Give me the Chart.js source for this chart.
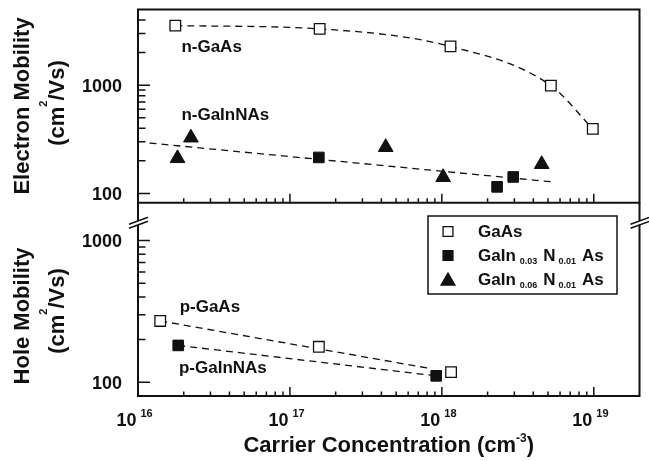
<!DOCTYPE html>
<html>
<head>
<meta charset="utf-8">
<script src="https://cdn.jsdelivr.net/npm/chart.js@4.4.1/dist/chart.umd.min.js"></script>
<style>
  html, body { margin: 0; padding: 0; background: #fff; }
  #wrap { width: 649px; height: 461px; }
</style>
</head>
<body>
<div id="wrap"><canvas id="mobilityChart" width="649" height="461"></canvas></div>
<script>
// carrier concentration (cm^-3) vs mobility (cm^2/Vs)
const nGaAsConc = [1.76e16, 1.57e17, 1.14e18, 5.22e18, 9.85e18];
const nGaAsMob = [3550, 3310, 2280, 990, 395];
const nIn03Conc = [1.55e17, 2.31e18, 2.95e18];
const nIn03Mob = [215, 115, 142];
const nIn06Conc = [1.82e16, 2.23e16, 4.27e17, 1.02e18, 4.54e18];
const nIn06Mob = [211, 327, 267, 141, 186];
const nFitConc = [1.19e16, 5.6e18];
const nFitMob = [292, 127];

const pGaAsConc = [1.40e16, 1.55e17, 1.15e18];
const pGaAsMob = [271, 178, 118];
const pFitConc = [1.40e16, 8.4e17];
const pFitMob = [271, 125];
const pIn03Conc = [1.84e16, 9.18e17];
const pIn03Mob = [182, 111];

const xTickExps = [16, 17, 18, 19];
const yTickLabels = [100, 1000];

const ink = '#111';
const family = '"Liberation Sans", Arial, sans-serif';
const bold = px => `bold ${px}px ${family}`;
const pts = (xs, ys) => xs.map((x, i) => ({ x, y: ys[i] }));

// minor/major positions for a log axis
function logTicks(scale) {
  const out = [];
  const first = Math.pow(10, Math.ceil(Math.log10(scale.min)));
  for (let e = Math.floor(Math.log10(scale.min)); e <= Math.ceil(Math.log10(scale.max)); e++) {
    for (let m = 1; m < 10; m++) {
      const v = m * Math.pow(10, e);
      if (v >= first && v > scale.min && v < scale.max) {
        out.push({ major: m === 1, px: scale.getPixelForValue(v) });
      }
    }
  }
  return out;
}

// text made of pieces (sub/superscripts)
function runWidth(ctx, parts) {
  let w = 0;
  parts.forEach(p => { ctx.font = bold(p.size); w += (p.gap || 0) + ctx.measureText(p.text).width; });
  return w;
}
function drawRun(ctx, parts, x, y) {
  let cx = x;
  parts.forEach(p => {
    cx += p.gap || 0;
    ctx.font = bold(p.size);
    ctx.fillText(p.text, cx, y + (p.dy || 0));
    cx += ctx.measureText(p.text).width;
  });
}

function axisBreak(ctx, x, y) {
  ctx.fillStyle = '#fff';
  ctx.fillRect(x - 2, y - 2, 4, 4);
  ctx.beginPath();
  ctx.moveTo(x - 9, y + 1.5); ctx.lineTo(x + 10, y - 5.5);
  ctx.moveTo(x - 9, y + 5.5); ctx.lineTo(x + 10, y - 1.5);
  ctx.stroke();
}

const unitParts = [
  { text: '(cm', size: 22 },
  { text: '2', size: 11, dy: -17 },
  { text: '/Vs)', size: 22 }
];

const curveLabels = [
  { text: 'n-GaAs', axis: 'yTop', x: 1.93e16, y: 2020 },
  { text: 'n-GaInNAs', axis: 'yTop', x: 1.93e16, y: 474 },
  { text: 'p-GaAs', axis: 'yBot', x: 1.88e16, y: 312 },
  { text: 'p-GaInNAs', axis: 'yBot', x: 1.86e16, y: 116 }
];

const legendRows = [
  { style: 'rect', fill: '#fff', radius: 7, parts: [{ text: 'GaAs', size: 17 }] },
  { style: 'rect', fill: ink, radius: 7, parts: [
    { text: 'GaIn', size: 17 }, { text: '0.03', size: 9, gap: 4, dy: 3 },
    { text: 'N', size: 17, gap: 6 }, { text: '0.01', size: 9, gap: 3, dy: 3 },
    { text: 'As', size: 17, gap: 6 }] },
  { style: 'triangle', fill: ink, radius: 8, parts: [
    { text: 'GaIn', size: 17 }, { text: '0.06', size: 9, gap: 4, dy: 3 },
    { text: 'N', size: 17, gap: 6 }, { text: '0.01', size: 9, gap: 3, dy: 3 },
    { text: 'As', size: 17, gap: 6 }] }
];

const panelFrame = {
  id: 'panelFrame',
  afterDraw(chart) {
    const ctx = chart.ctx;
    const xs = chart.scales.x, yt = chart.scales.yTop, yb = chart.scales.yBot;
    const L = xs.left, R = xs.right;
    const breakY = yb.top + 20;
    ctx.save();
    ctx.strokeStyle = ink;
    ctx.fillStyle = ink;

    // frames
    ctx.lineWidth = 2;
    ctx.strokeRect(L, yt.top, R - L, yt.bottom - yt.top);
    ctx.beginPath();
    ctx.moveTo(L, yb.top); ctx.lineTo(L, yb.bottom);
    ctx.lineTo(R, yb.bottom); ctx.lineTo(R, yb.top);
    ctx.stroke();

    // inward ticks
    ctx.lineWidth = 1.5;
    ctx.beginPath();
    logTicks(xs).forEach(t => {
      const len = t.major ? 9 : 4.5;
      [yt.bottom, yb.bottom].forEach(b => { ctx.moveTo(t.px, b); ctx.lineTo(t.px, b - len); });
    });
    [yt, yb].forEach(s => logTicks(s).forEach(t => {
      ctx.moveTo(L, t.px); ctx.lineTo(L + (t.major ? 12 : 7.5), t.px);
    }));
    ctx.stroke();

    // axis breaks on the lower panel
    axisBreak(ctx, L, breakY);
    axisBreak(ctx, R, breakY);
    ctx.fillStyle = ink;

    // tick labels
    ctx.textAlign = 'right';
    ctx.font = bold(18);
    [yt, yb].forEach(s => yTickLabels.forEach(v => {
      ctx.fillText(String(v), L - 16, s.getPixelForValue(v) + 6.5);
    }));
    xTickExps.forEach(e => {
      const px = xs.getPixelForValue(Math.pow(10, e));
      ctx.textAlign = 'right';
      ctx.font = bold(18);
      ctx.fillText('10', px - 1.5, yb.bottom + 30);
      ctx.textAlign = 'left';
      ctx.font = bold(11);
      ctx.fillText(String(e), px + 2.5, yb.bottom + 21);
    });

    // axis titles
    ctx.textAlign = 'left';
    const xTitle = [
      { text: 'Carrier Concentration (cm', size: 22 },
      { text: '-3', size: 12, dy: -10.5 },
      { text: ')', size: 22 }
    ];
    drawRun(ctx, xTitle, (L + R) / 2 - runWidth(ctx, xTitle) / 2, yb.bottom + 56);

    const yTitles = [
      { line: [{ text: 'Electron Mobility', size: 22 }], bx: 29, cy: 106 },
      { line: unitParts, bx: 64, cy: 103 },
      { line: [{ text: 'Hole Mobility', size: 22 }], bx: 29, cy: 316 },
      { line: unitParts, bx: 64, cy: 311 }
    ];
    yTitles.forEach(t => {
      ctx.save();
      ctx.translate(t.bx, t.cy);
      ctx.rotate(-Math.PI / 2);
      drawRun(ctx, t.line, -runWidth(ctx, t.line) / 2, 0);
      ctx.restore();
    });

    // curve labels
    ctx.font = bold(17);
    curveLabels.forEach(c => {
      ctx.fillText(c.text, xs.getPixelForValue(c.x), chart.scales[c.axis].getPixelForValue(c.y));
    });

    // legend
    const box = { x: 428, y: 216, w: 189, h: 78 };
    ctx.fillStyle = '#fff';
    ctx.fillRect(box.x, box.y, box.w, box.h);
    ctx.lineWidth = 1.5;
    ctx.strokeRect(box.x, box.y, box.w, box.h);
    legendRows.forEach((row, i) => {
      const base = box.y + 21 + i * 24;
      ctx.fillStyle = row.fill;
      ctx.strokeStyle = ink;
      ctx.lineWidth = 1.3;
      Chart.helpers.drawPoint(ctx, { pointStyle: row.style, radius: row.radius, rotation: 0, borderWidth: 1.3 },
        box.x + 20, base - (row.style === 'triangle' ? 4 : 5.5));
      ctx.fillStyle = ink;
      drawRun(ctx, row.parts, box.x + 50, base);
    });
    ctx.restore();
  }
};

const dash = [7, 5];

new Chart(document.getElementById('mobilityChart'), {
  type: 'scatter',
  data: {
    datasets: [
      {
        label: 'n-GaAs', yAxisID: 'yTop', data: pts(nGaAsConc, nGaAsMob),
        showLine: true, cubicInterpolationMode: 'monotone', borderDash: dash,
        borderColor: ink, borderWidth: 1.3,
        pointStyle: 'rect', pointRadius: 7.5, pointBackgroundColor: '#fff',
        pointBorderColor: ink, pointBorderWidth: 1.3, order: 1
      },
      {
        label: 'n-GaInNAs fit', yAxisID: 'yTop', data: pts(nFitConc, nFitMob),
        showLine: true, borderDash: dash, borderColor: ink, borderWidth: 1.3,
        pointRadius: 0, order: 2
      },
      {
        label: 'GaIn0.03N0.01As (n)', yAxisID: 'yTop', data: pts(nIn03Conc, nIn03Mob),
        pointStyle: 'rect', pointRadius: 7.5, pointBackgroundColor: ink,
        pointBorderColor: ink, pointBorderWidth: 1, order: 0
      },
      {
        label: 'GaIn0.06N0.01As (n)', yAxisID: 'yTop', data: pts(nIn06Conc, nIn06Mob),
        pointStyle: 'triangle', pointRadius: 8.5, pointBackgroundColor: ink,
        pointBorderColor: ink, pointBorderWidth: 1, order: 0
      },
      {
        label: 'p-GaAs', yAxisID: 'yBot', data: pts(pGaAsConc, pGaAsMob),
        pointStyle: 'rect', pointRadius: 7.5, pointBackgroundColor: '#fff',
        pointBorderColor: ink, pointBorderWidth: 1.3, order: 0
      },
      {
        label: 'p-GaAs fit', yAxisID: 'yBot', data: pts(pFitConc, pFitMob),
        showLine: true, borderDash: dash, borderColor: ink, borderWidth: 1.3,
        pointRadius: 0, order: 2
      },
      {
        label: 'p-GaInNAs', yAxisID: 'yBot', data: pts(pIn03Conc, pIn03Mob),
        showLine: true, borderDash: dash, borderColor: ink, borderWidth: 1.3,
        pointStyle: 'rect', pointRadius: 7.5, pointBackgroundColor: ink,
        pointBorderColor: ink, pointBorderWidth: 1, order: 1
      }
    ]
  },
  options: {
    responsive: false,
    animation: false,
    events: [],
    layout: { padding: { left: 138, right: 5, top: 6, bottom: 65 } },
    scales: {
      x: { type: 'logarithmic', min: 1e16, max: 2e19, display: false },
      // stacked axes: the first one listed sits at the bottom
      yBot: { type: 'logarithmic', min: 80, max: 1850, display: false,
              position: 'left', stack: 'mobility', stackWeight: 1 },
      yTop: { type: 'logarithmic', min: 82, max: 5000, display: false,
              position: 'left', stack: 'mobility', stackWeight: 1 }
    },
    plugins: {
      legend: { display: false },
      tooltip: { enabled: false },
      title: { display: false }
    }
  },
  plugins: [panelFrame]
});
</script>
</body>
</html>
